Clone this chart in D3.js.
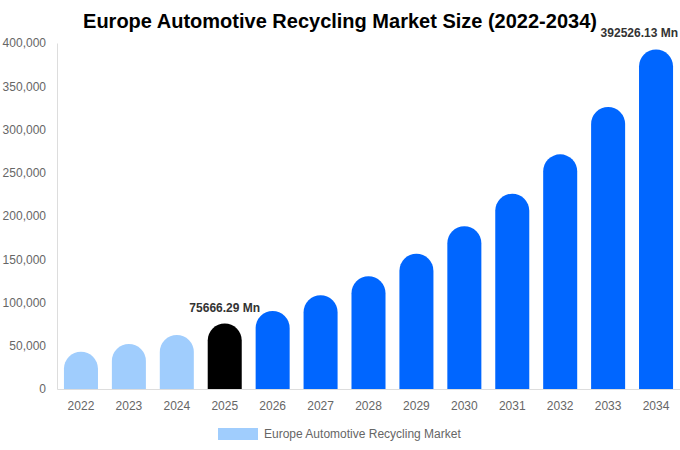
<!DOCTYPE html>
<html><head><meta charset="utf-8">
<script src="https://cdn.jsdelivr.net/npm/d3@7"></script>
<style>body{margin:0;background:#fff;font-family:"Liberation Sans",Arial,sans-serif}</style>
</head><body><svg id="c" width="680" height="450"></svg>
<script>
const years = ["2022","2023","2024","2025","2026","2027","2028","2029","2030","2031","2032","2033","2034"];
const values = [43100,52000,62500,75666.29,90200,108300,130300,156400,188100,225800,271300,326000,392526.13];
const kinds = ["past","past","past","current","future","future","future","future","future","future","future","future","future"];
const yTicks = [0,50000,100000,150000,200000,250000,300000,350000,400000];
const labelled = {"2025":"75666.29 Mn","2034":"392526.13 Mn"};
const colors = {past:"#a0cdfd",current:"#000000",future:"#0066ff"};

const svg = d3.select("#c");
const m = {l:57,r:680,t:43,b:389};
const x = d3.scaleBand().domain(years).range([m.l,m.r]).paddingInner(0.29).paddingOuter(0.145);
const y = d3.scaleLinear().domain([0,400000]).range([m.b,m.t]);

svg.append("text").attr("x",340).attr("y",28).attr("text-anchor","middle")
  .attr("font-size",20).attr("font-weight","bold").attr("fill","#000")
  .text("Europe Automotive Recycling Market Size (2022-2034)");

// axes
const ya = svg.append("g").attr("transform",`translate(${m.l},0)`)
  .call(d3.axisLeft(y).tickValues(yTicks).tickSize(0).tickPadding(11).tickFormat(d3.format(",")));
ya.select(".domain").attr("stroke","#ddd");
ya.selectAll("text").attr("fill","#666").attr("font-size",12).attr("font-family","Liberation Sans, Arial, sans-serif");

const xa = svg.append("g").attr("transform",`translate(0,${m.b})`)
  .call(d3.axisBottom(x).tickSize(0).tickPadding(12));
xa.select(".domain").attr("stroke","#ddd");
xa.selectAll("text").attr("fill","#666").attr("font-size",12).attr("font-family","Liberation Sans, Arial, sans-serif");

// bars with rounded tops
const bw = x.bandwidth();
function barPath(d,i){
  const x0 = x(years[i]), x1 = x0+bw, r = bw/2;
  const yt = y(d), yb = y(0);
  const ys = Math.min(yt + r, yb);
  return `M${x0},${yb}L${x0},${ys}A${r},${r} 0 0 1 ${x1},${ys}L${x1},${yb}Z`;
}
svg.append("g").selectAll("path").data(values).join("path")
  .attr("d",barPath).attr("fill",(d,i)=>colors[kinds[i]]);

// value labels, kept inside the picture
svg.append("g").selectAll("text").data(years.filter(yr=>labelled[yr])).join("text")
  .attr("x",yr=>x(yr)+bw/2).attr("y",yr=>y(values[years.indexOf(yr)])-12)
  .attr("text-anchor","middle").attr("font-size",12).attr("font-weight","bold").attr("fill","#333")
  .text(yr=>labelled[yr])
  .each(function(){
    const b = this.getBBox();
    if (b.x + b.width > 678) d3.select(this).attr("text-anchor","end").attr("x",678);
  });

// legend
svg.append("rect").attr("x",218).attr("y",428).attr("width",40).attr("height",12).attr("fill",colors.past);
svg.append("text").attr("x",264).attr("y",438).attr("font-size",12).attr("fill","#666")
  .text("Europe Automotive Recycling Market");
</script></body></html>
